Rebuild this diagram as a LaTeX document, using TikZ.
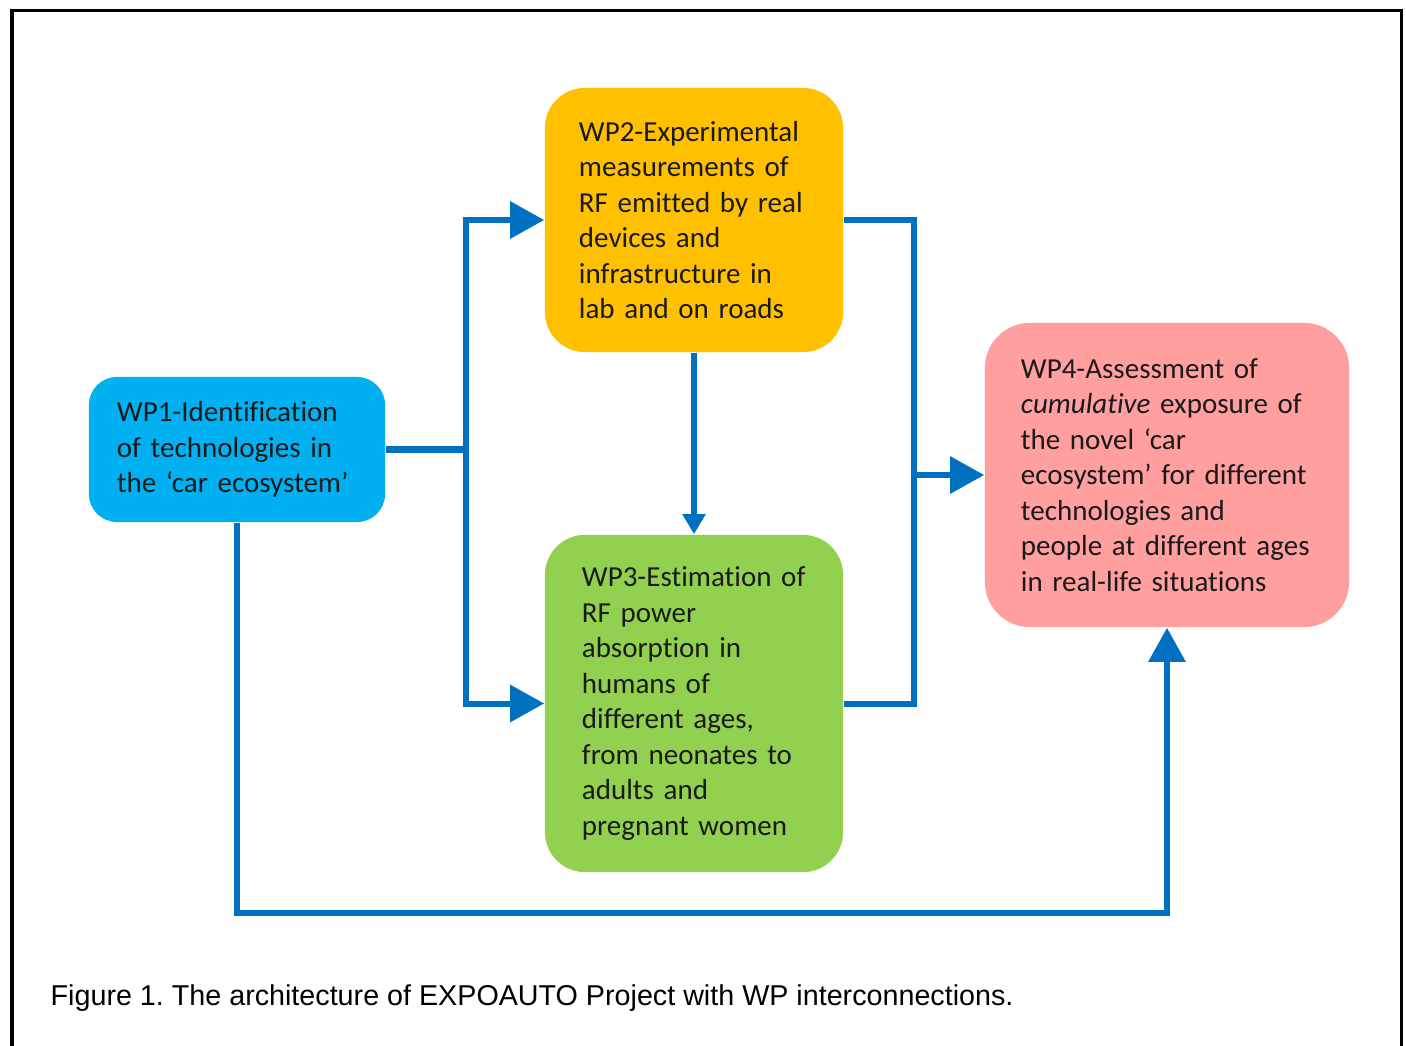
\documentclass[tikz,border=0pt]{standalone}
\usepackage{fontspec}
\setmainfont[Ligatures={TeX,NoCommon}]{Carlito}
\newfontfamily\capfont{Liberation Sans}
\usetikzlibrary{arrows.meta}
\definecolor{wpblue}{HTML}{00B0F0}
\definecolor{wporange}{HTML}{FFC000}
\definecolor{wpgreen}{HTML}{92D050}
\definecolor{wppink}{HTML}{FF9F9F}
\definecolor{connblue}{HTML}{0070C0}
\definecolor{boxtext}{HTML}{1A1A1A}
\tikzset{
  wpbox/.style={rounded corners=0.4cm, align=left, text=boxtext,
    font=\fontsize{8.25pt}{10.1pt}\selectfont, inner ysep=0pt},
  conn/.style={draw=connblue, line width=0.06cm},
  bigtip/.style={-{Triangle[length=0.34cm,width=0.36cm]}},
  smalltip/.style={-{Triangle[length=0.2cm,width=0.22cm]}},
}
\frenchspacing
\begin{document}
\begin{tikzpicture}[x=0.01cm,y=-0.01cm]
\useasboundingbox (0,0) rectangle (1406,1046);
\fill[white] (0,0) rectangle (1406,1046);
\draw[line width=0.038cm] (12,1046) -- (12,10.5) -- (1401.5,10.5) -- (1401.5,1046);

\node[wpbox, fill=wpblue, rounded corners=0.28cm, minimum width=2.96cm, minimum height=1.45cm,
  text width=2.40cm, inner xsep=0.28cm] (wp1) at (237,449.5)
  {WP1-Identification\\of technologies in\\the ‘car ecosystem’};
\node[wpbox, fill=wporange, minimum width=2.98cm, minimum height=2.64cm,
  text width=2.30cm, inner xsep=0.34cm] (wp2) at (694,220)
  {WP2-Experimental\\measurements of\\RF emitted by real\\devices and\\infrastructure in\\lab and on roads};
\node[wpbox, fill=wpgreen, minimum width=2.98cm, minimum height=3.37cm,
  text width=2.24cm, inner xsep=0.37cm] (wp3) at (694,703.5)
  {WP3-Estimation of\\RF power\\absorption in\\humans of\\different ages,\\from neonates to\\adults and\\pregnant women};
\node[wpbox, fill=wppink, rounded corners=0.45cm, minimum width=3.64cm, minimum height=3.04cm,
  text width=2.92cm, inner xsep=0.36cm] (wp4) at (1167,475)
  {WP4-Assessment of\\\textit{cumulative} exposure of\\the novel ‘car\\ecosystem’ for different\\technologies and\\people at different ages\\in real-life situations};

\coordinate (jL) at (466,449.5);
\coordinate (jR) at (914,475);
\coordinate (bot) at (1167,913);

\draw[conn] (wp1.east) -- (jL);
\draw[conn,bigtip] (jL) |- (wp2.west);
\draw[conn,bigtip] (jL) |- (wp3.west);
\draw[conn,smalltip] (wp2.south) -- (wp3.north);
\draw[conn] (wp2.east) -| (jR);
\draw[conn] (wp3.east) -| (jR);
\draw[conn,bigtip] (jR) -- (wp4.west);
\draw[conn,bigtip] (wp1.south) |- (bot) -- (wp4.south);

\node[anchor=base west, inner sep=0pt, font=\capfont\fontsize{8.16pt}{9.5pt}\selectfont] (cap) at (50,1005)
  {Figure 1. The architecture of EXPOAUTO Project with WP interconnections.};
\end{tikzpicture}
\end{document}
